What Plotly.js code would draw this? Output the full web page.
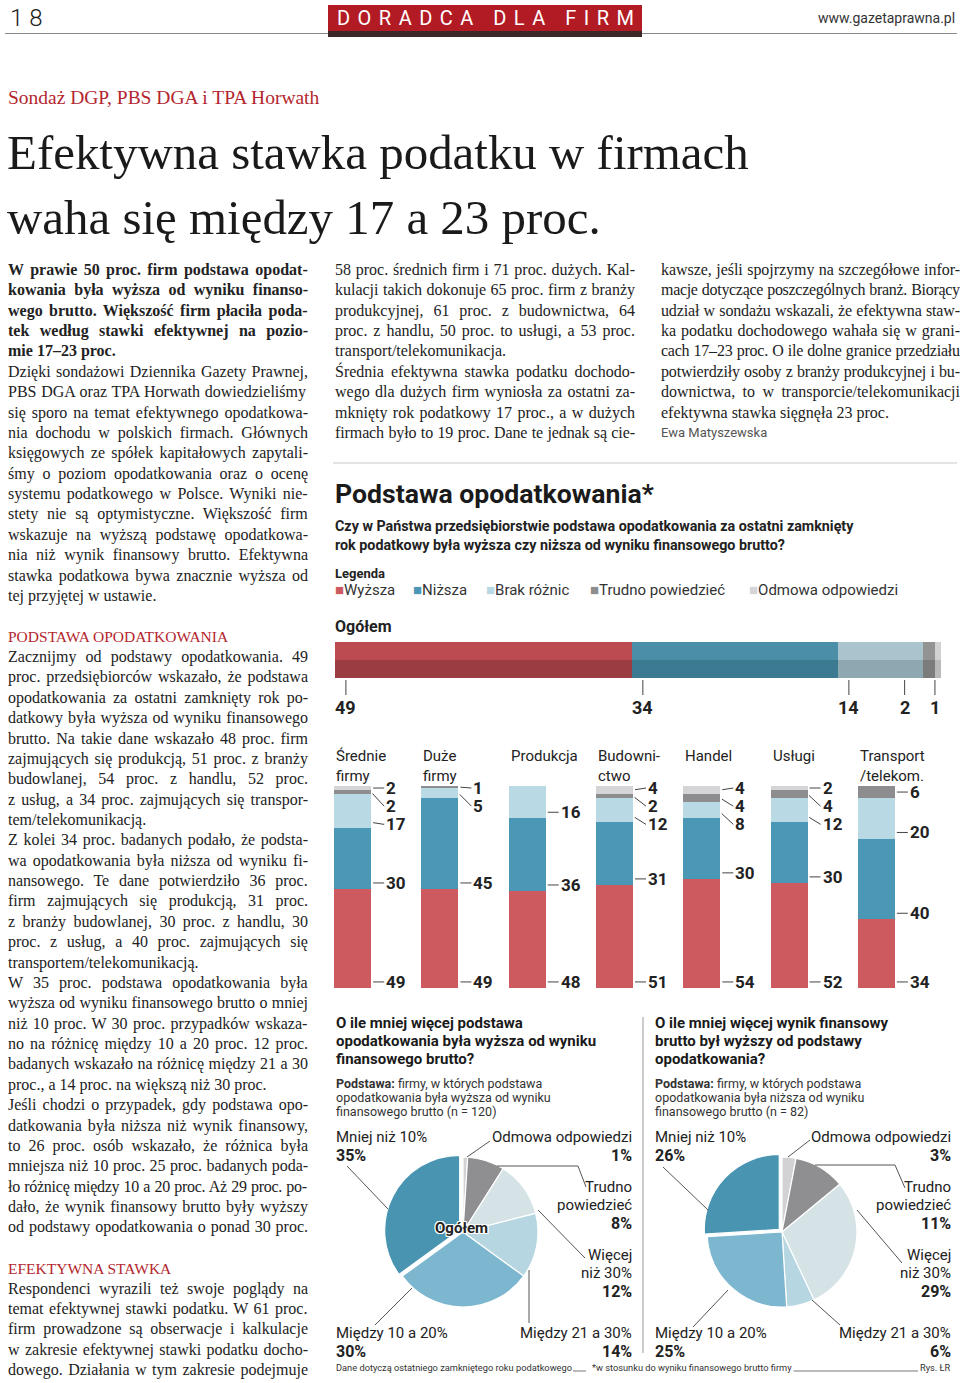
<!DOCTYPE html>
<html><head><meta charset="utf-8">
<script src="https://cdn.plot.ly/plotly-3.0.1.min.js"></script>
<style>html,body{margin:0;padding:0;background:#fff}</style>
</head><body>
<div id="chart" style="width:960px;height:1383px"></div>
<script>
// ---------------- DATA ----------------
const overallLabels = ['Wyższa','Niższa','Brak różnic','Trudno powiedzieć','Odmowa odpowiedzi'];
const overallValues = [49,34,14,2,1];

const groups = ['Średnie firmy','Duże firmy','Produkcja','Budownictwo','Handel','Usługi','Transport/telekom.'];
const groupTitles = ['Średnie<br>firmy','Duże<br>firmy','Produkcja','Budowni-<br>ctwo','Handel','Usługi','Transport<br>/telekom.'];
const wyzsza = [49,49,48,51,54,52,34];
const nizsza = [30,45,36,31,30,30,40];
const brak   = [17,5,16,12,8,12,20];
const trudno = [2,1,0,2,4,4,6];
const odmowa = [2,0,0,4,4,2,0];

const pieLabels = ['Odmowa odpowiedzi','Trudno powiedzieć','Więcej niż 30%','Między 21 a 30%','Między 10 a 20%','Mniej niż 10%'];
const pieLabelLines = [['Odmowa odpowiedzi'],['Trudno','powiedzieć'],['Więcej','niż 30%'],['Między 21 a 30%'],['Między 10 a 20%'],['Mniej niż 10%']];
const pieHigher = [1,8,12,14,30,35];   // n = 120
const pieLower  = [3,11,29,6,25,26];   // n = 82

// ---------------- STYLE ----------------
const W=960,H=1383;
const X=p=>p/W, Y=p=>1-p/H;
const SERIF='"Liberation Serif", "Times New Roman", serif';
const SANS='Roboto, "Liberation Sans", sans-serif';
const colMain=['#cd5a5f','#4a98b6','#b9dae5','#8d8d8f','#d5d5d7'];
const colTop =['#bc4b51','#4a8ea7','#a9c4cd','#939393','#d2d2d2'];
const colBot =['#9b3b42','#3b7a91','#8ea8b1','#7c7c7c','#bababa'];
const pieColors=['#d2d2d4','#8f8f92','#d5e3e7','#b6d6e2','#7db7cf','#4995b1'];
const RED='#b3262e', INK='#222';

const cv=document.createElement('canvas'), cx=cv.getContext('2d');
function measure(t,size,weight,fam){cx.font=weight+' '+size+'px '+fam;return cx.measureText(t).width;}
function justify(t,width,size,weight,fam){
  const n=(t.match(/ /g)||[]).length; if(!n) return t;
  const w=measure(t,size,weight,fam);
  let ws=(width-w)/n, ls=0;
  if(ws<0.5){ ws=0.5; ls=(width-w-n*ws)/(t.length-1); }
  return '<span style="word-spacing:'+ws.toFixed(2)+'px;letter-spacing:'+ls.toFixed(3)+'px">'+t+'</span>';
}

const ann=[], shapes=[];
function T(x,y,text,o){
  o=o||{};
  ann.push({xref:'paper',yref:'paper',x:X(x),y:Y(y),text:text,showarrow:false,
    xanchor:o.xa||'left',yanchor:o.ya||'middle',align:o.al||'left',
    font:Object.assign({family:o.fam||SANS,size:o.size||15,color:o.color||INK,weight:o.weight||400},o.font||{})});
}
function line(x0,y0,x1,y1,c,w){shapes.push({type:'line',xref:'paper',yref:'paper',x0:X(x0),y0:Y(y0),x1:X(x1),y1:Y(y1),line:{color:c||'#555',width:w||1}});}
function poly(pts,c){shapes.push({type:'path',xref:'paper',yref:'paper',path:pts.map((p,i)=>(i?'L':'M')+X(p[0])+','+Y(p[1])).join(' '),line:{color:c||'#555',width:1}});}

// ---------------- HEADER ----------------
shapes.push({type:'rect',xref:'paper',yref:'paper',x0:X(328),x1:X(642),y0:Y(31),y1:Y(5),fillcolor:'#b31b24',line:{width:0}});
line(5,33.5,957,33.5,'#8a8a8a',1.2);
shapes.push({type:'rect',xref:'paper',yref:'paper',x0:X(328),x1:X(642),y0:Y(37),y1:Y(31),fillcolor:'#3b2628',line:{width:0}});
T(8,18,'1 8',{size:24,font:{weight:300}});
T(957,18,'www.gazetaprawna.pl',{xa:'right',size:14,color:'#333'});
(function(){const t='DORADCA DLA FIRM';const nat=measure(t,20,400,SANS);const ls=(297-nat)/(t.length-1);
  T(485+ls/2,18,'<span style="letter-spacing:'+ls.toFixed(2)+'px">'+t+'</span>',{xa:'center',size:20,color:'#fff'});})();

// ---------------- HEADLINE ----------------
(function(){
  const s='Sondaż DGP, PBS DGA i TPA Horwath';
  T(6,97,s,{fam:SERIF,size:314/measure(s,1,400,SERIF),color:RED});
  const h1='Efektywna stawka podatku w firmach', h2='waha się między 17 a 23 proc.';
  const hs=742/measure(h1,1,400,SERIF);
  T(5,152,h1,{fam:SERIF,size:hs,color:'#1a1a1a'});
  T(5,217,h2,{fam:SERIF,size:hs,color:'#1a1a1a'});
})();

// ---------------- BODY TEXT ----------------
const LH=20.37;
const colLeft=[
 {s:'bold',lines:['W prawie 50 proc. firm podstawa opodat-','kowania była wyższa od wyniku finanso-','wego brutto. Większość firm płaciła poda-','tek według stawki efektywnej na pozio-','mie 17–23 proc.']},
 {s:'n',lines:['Dzięki sondażowi Dziennika Gazety Prawnej,','PBS DGA oraz TPA Horwath dowiedzieliśmy','się sporo na temat efektywnego opodatkowa-','nia dochodu w polskich firmach. Głównych','księgowych ze spółek kapitałowych zapytali-','śmy o poziom opodatkowania oraz o ocenę','systemu podatkowego w Polsce. Wyniki nie-','stety nie są optymistyczne. Większość firm','wskazuje na wyższą podstawę opodatkowa-','nia niż wynik finansowy brutto. Efektywna','stawka podatkowa bywa znacznie wyższa od','tej przyjętej w ustawie.']},
 {s:'gap'},
 {s:'head',lines:['PODSTAWA OPODATKOWANIA']},
 {s:'n',lines:['Zacznijmy od podstawy opodatkowania. 49','proc. przedsiębiorców wskazało, że podstawa','opodatkowania za ostatni zamknięty rok po-','datkowy była wyższa od wyniku finansowego','brutto. Na takie dane wskazało 48 proc. firm','zajmujących się produkcją, 51 proc. z branży','budowlanej, 54 proc. z handlu, 52 proc.','z usług, a 34 proc. zajmujących się transpor-','tem/telekomunikacją.']},
 {s:'n',lines:['Z kolei 34 proc. badanych podało, że podsta-','wa opodatkowania była niższa od wyniku fi-','nansowego. Te dane potwierdziło 36 proc.','firm zajmujących się produkcją, 31 proc.','z branży budowlanej, 30 proc. z handlu, 30','proc. z usług, a 40 proc. zajmujących się','transportem/telekomunikacją.']},
 {s:'n',lines:['W 35 proc. podstawa opodatkowania była','wyższa od wyniku finansowego brutto o mniej','niż 10 proc. W 30 proc. przypadków wskaza-','no na różnicę między 10 a 20 proc. 12 proc.','badanych wskazało na różnicę między 21 a 30','proc., a 14 proc. na większą niż 30 proc.']},
 {s:'n',lastJust:true,lines:['Jeśli chodzi o przypadek, gdy podstawa opo-','datkowania była niższa niż wynik finansowy,','to 26 proc. osób wskazało, że różnica była','mniejsza niż 10 proc. 25 proc. badanych poda-','ło różnicę między 10 a 20 proc. Aż 29 proc. po-','dało, że wynik finansowy brutto były wyższy','od podstawy opodatkowania o ponad 30 proc.']},
 {s:'gap'},
 {s:'head',lines:['EFEKTYWNA STAWKA']},
 {s:'n',lastJust:true,lines:['Respondenci wyrazili też swoje poglądy na','temat efektywnej stawki podatku. W 61 proc.','firm prowadzone są obserwacje i kalkulacje','w zakresie efektywnej stawki podatku docho-','dowego. Działania w tym zakresie podejmuje']}
];
const colMid=[
 {s:'n',lines:['58 proc. średnich firm i 71 proc. dużych. Kal-','kulacji takich dokonuje 65 proc. firm z branży','produkcyjnej, 61 proc. z budownictwa, 64','proc. z handlu, 50 proc. to usługi, a 53 proc.','transport/telekomunikacja.']},
 {s:'n',lastJust:true,lines:['Średnia efektywna stawka podatku dochodo-','wego dla dużych firm wyniosła za ostatni za-','mknięty rok podatkowy 17 proc., a w dużych','firmach było to 19 proc. Dane te jednak są cie-']}
];
const colRight=[
 {s:'n',lines:['kawsze, jeśli spojrzymy na szczegółowe infor-','macje dotyczące poszczególnych branż. Biorący','udział w sondażu wskazali, że efektywna staw-','ka podatku dochodowego wahała się w grani-','cach 17–23 proc. O ile dolne granice przedziału','potwierdziły osoby z branży produkcyjnej i bu-','downictwa, to w transporcie/telekomunikacji','efektywna stawka sięgnęła 23 proc.']},
 {s:'byline',lines:['Ewa Matyszewska']}
];
function addColumn(x0,width,blocks){
  let i=0;
  blocks.forEach(b=>{
    if(b.s==='gap'){i++;return;}
    b.lines.forEach((ln,j)=>{
      let fam=SERIF,size=16,weight=400,color=INK;
      if(b.s==='bold') weight=700;
      if(b.s==='head'){color=RED;size=15.5;}
      if(b.s==='byline'){fam=SANS;size=13;color='#555';}
      const last=j===b.lines.length-1;
      let txt=ln;
      if((b.s==='n'||b.s==='bold')&&(!last||b.lastJust)) txt=justify(ln,width,size,weight,fam);
      else if(measure(ln,size,weight,fam)>width) txt=justify(ln,width,size,weight,fam);
      T(x0,270+i*LH,txt,{fam:fam,size:size,weight:weight,color:color});
      i++;
    });
  });
}
addColumn(6,300,colLeft);
addColumn(333,300,colMid);
addColumn(659,299,colRight);

// ---------------- CHART HEADINGS ----------------
line(333,463,957,463,'#bbbbbb',0.8);
(function(){const t='Podstawa opodatkowania*';T(333,494,t,{size:319/measure(t,1,700,SANS),weight:700,color:'#1a1a1a'});})();
T(333,526,'Czy w Państwa przedsiębiorstwie podstawa opodatkowania za ostatni zamknięty',{size:14.3,weight:700});
T(333,545,'rok podatkowy była wyższa czy niższa od wyniku finansowego brutto?',{size:14.3,weight:700});
T(333,573,'Legenda',{size:13,weight:700});
const legX=[333,411,484,588,747];
overallLabels.forEach((l,k)=>T(legX[k],590,'<span style="color:'+colMain[k]+';font-size:15px">■</span>'+l,{size:15,color:'#333'}));
T(333,627,'Ogółem',{size:16,weight:700});

// ---------------- TRACES ----------------
const traces=[];
overallValues.forEach((v,k)=>traces.push({type:'bar',orientation:'h',x:[v,v],y:[0,1],width:[1,1],
  marker:{color:[colBot[k],colTop[k]],line:{width:0}},xaxis:'x',yaxis:'y',hoverinfo:'skip',showlegend:false}));
shapes.push({type:'path',xref:'x',yref:'y',xsizemode:'pixel',xanchor:0,path:'M0,1.5 L-4,0.5 L0,0.5 Z',fillcolor:colTop[0],line:{width:0}});
shapes.push({type:'path',xref:'x',yref:'y',xsizemode:'pixel',xanchor:0,path:'M0,0.5 L-4,0.5 L0,-0.5 Z',fillcolor:colBot[0],line:{width:0}});
shapes.push({type:'path',xref:'x',yref:'y',xsizemode:'pixel',xanchor:100,path:'M0,1.5 L6,0.5 L0,0.5 Z',fillcolor:colTop[4],line:{width:0}});
shapes.push({type:'path',xref:'x',yref:'y',xsizemode:'pixel',xanchor:100,path:'M0,0.5 L6,0.5 L0,-0.5 Z',fillcolor:colBot[4],line:{width:0}});
(function(){
  const starts=[];let c=0;overallValues.forEach(v=>{starts.push(c);c+=v;});
  let next=104;const pos=[];
  for(let k=overallValues.length-1;k>=0;k--){const p=Math.min(starts[k]+1.8,99,next-5);pos[k]=p;next=p;}
  overallValues.forEach((v,k)=>ann.push({xref:'x',yref:'y',x:pos[k],y:-0.5,text:String(v),showarrow:true,arrowhead:0,
    arrowwidth:1,arrowcolor:'#444',ax:0,ay:29,standoff:2,font:{family:SANS,size:18,color:INK,weight:700}}));
})();

const seriesList=[wyzsza,nizsza,brak,trudno,odmowa];
const BW=0.424;
seriesList.forEach((s,k)=>traces.push({type:'bar',x:groups,y:s,width:BW,marker:{color:colMain[k],line:{width:0}},
  xaxis:'x2',yaxis:'y2',hoverinfo:'skip',showlegend:false}));
const ppu=(988-786)/100;
groups.forEach((g,i)=>{
  ann.push({xref:'x2',yref:'paper',x:i-BW/2,y:Y(745),text:groupTitles[i],showarrow:false,xanchor:'left',yanchor:'top',align:'left',
    font:{family:SANS,size:15,color:INK}});
  const bases=[];let c=0;seriesList.forEach(s=>{bases.push(c);c+=s[i];});
  let prev=108;
  for(let k=seriesList.length-1;k>=0;k--){
    const v=seriesList[k][i]; if(!v) continue;
    const tip=bases[k]+Math.min(3,v/2);
    const ly=Math.min(bases[k]+3,99,prev-9); prev=ly;
    ann.push({xref:'x2',yref:'y2',x:i+BW/2,y:tip,text:String(v),showarrow:true,arrowhead:0,arrowwidth:1,arrowcolor:'#444',
      ax:13,ay:(tip-ly)*ppu,standoff:2,xanchor:'left',font:{family:SANS,size:17,color:INK,weight:700}});
  }
});

function pie(vals,cx0,cy0){
  const r=75,s=r*1.05;
  traces.push({type:'pie',values:vals,labels:pieLabels,sort:false,direction:'clockwise',rotation:0,
    marker:{colors:pieColors,line:{color:'#fff',width:1.2}},pull:[0,0,0,0,0,0.05],textinfo:'none',hoverinfo:'none',
    domain:{x:[X(cx0-s),X(cx0+s)],y:[Y(cy0+s),Y(cy0-s)]},showlegend:false});
}
pie(pieHigher,463,1232);
pie(pieLower,782,1232);
T(461,1228,'Ogółem',{xa:'center',size:15,weight:700,color:'#222',font:{shadow:'1px 1px 0 #fff, -1px -1px 0 #fff, 1px -1px 0 #fff, -1px 1px 0 #fff, 0 1px 0 #fff, 0 -1px 0 #fff, 1px 0 0 #fff, -1px 0 0 #fff'}});

function pieTexts(vals,off){
  const pos=[[634,1137,'right'],[634,1187,'right'],[634,1255,'right'],[634,1333,'right'],[334,1333,'left'],[334,1137,'left']];
  vals.forEach((v,k)=>{
    const lines=pieLabelLines[k].concat(['<b>'+v+'%</b>']);
    lines.forEach((t,j)=>{const last=j===lines.length-1;
      T(pos[k][0]+off,pos[k][1]+j*18.2,t,{xa:pos[k][2],size:last?16:15,color:INK});});
  });
}
pieTexts(pieHigher,0);
pieTexts(pieLower,319);
[[[347,1166],[388,1209]],[[490,1141],[467,1157]],[[586,1187],[578,1166],[497,1166]],[[585,1258],[538,1210]],[[529,1323],[529,1270]],[[375,1325],[412,1288]],
 [[663,1167],[708,1210]],[[810,1140],[788,1157]],[[905,1188],[895,1165],[815,1165]],[[902,1263],[857,1210]],[[840,1325],[812,1300]],[[693,1327],[728,1290]]
].forEach(p=>poly(p,'#555'));

[['O ile mniej więcej podstawa','opodatkowania była wyższa od wyniku','finansowego brutto?'],
 ['O ile mniej więcej wynik finansowy','brutto był wyższy od podstawy','opodatkowania?']].forEach((ls,c)=>{
  ls.forEach((t,j)=>T(334+c*319,1023+j*18,t,{size:15,weight:700,color:'#1a1a1a'}));
});
[['<b>Podstawa:</b> firmy, w których podstawa','opodatkowania była wyższa od wyniku','finansowego brutto (n = 120)'],
 ['<b>Podstawa:</b> firmy, w których podstawa','opodatkowania była niższa od wyniku','finansowego brutto (n = 82)']].forEach((ls,c)=>{
  ls.forEach((t,j)=>T(334+c*319,1083+j*14,t,{size:12.5,color:'#333'}));
});
line(643,1017,643,1353,'#999',1);

// footer
(function(){
  const f1='Dane dotyczą ostatniego zamkniętego roku podatkowego', f2='*w stosunku do wyniku finansowego brutto firmy';
  const fs=236/measure(f1,1,400,SANS);
  T(334,1367,f1,{size:fs,color:'#333'});
  line(573,1371,586,1371,'#555',0.8);
  T(590,1367,f2,{size:fs,color:'#333'});
  const e2=590+measure(f2,fs,400,SANS);
  line(e2+4,1371,918,1371,'#555',0.8);
  T(953,1367,'Rys. ŁR',{xa:'right',size:fs,color:'#333'});
})();

const layout={width:W,height:H,margin:{l:0,r:0,t:0,b:0},paper_bgcolor:'#fff',plot_bgcolor:'rgba(0,0,0,0)',
  showlegend:false,barmode:'stack',
  xaxis:{domain:[X(335),X(941)],range:[0,100],visible:false,fixedrange:true,anchor:'y'},
  yaxis:{domain:[Y(678),Y(642)],range:[-0.5,1.5],visible:false,fixedrange:true,anchor:'x'},
  xaxis2:{domain:[X(309),X(920)],range:[-0.5,6.5],type:'category',categoryorder:'array',categoryarray:groups,visible:false,anchor:'y2'},
  yaxis2:{domain:[Y(988),Y(786)],range:[0,100],visible:false,anchor:'x2'},
  shapes:shapes,annotations:ann};
Plotly.newPlot('chart',traces,layout,{staticPlot:true,displayModeBar:false});
</script>
</body></html>
